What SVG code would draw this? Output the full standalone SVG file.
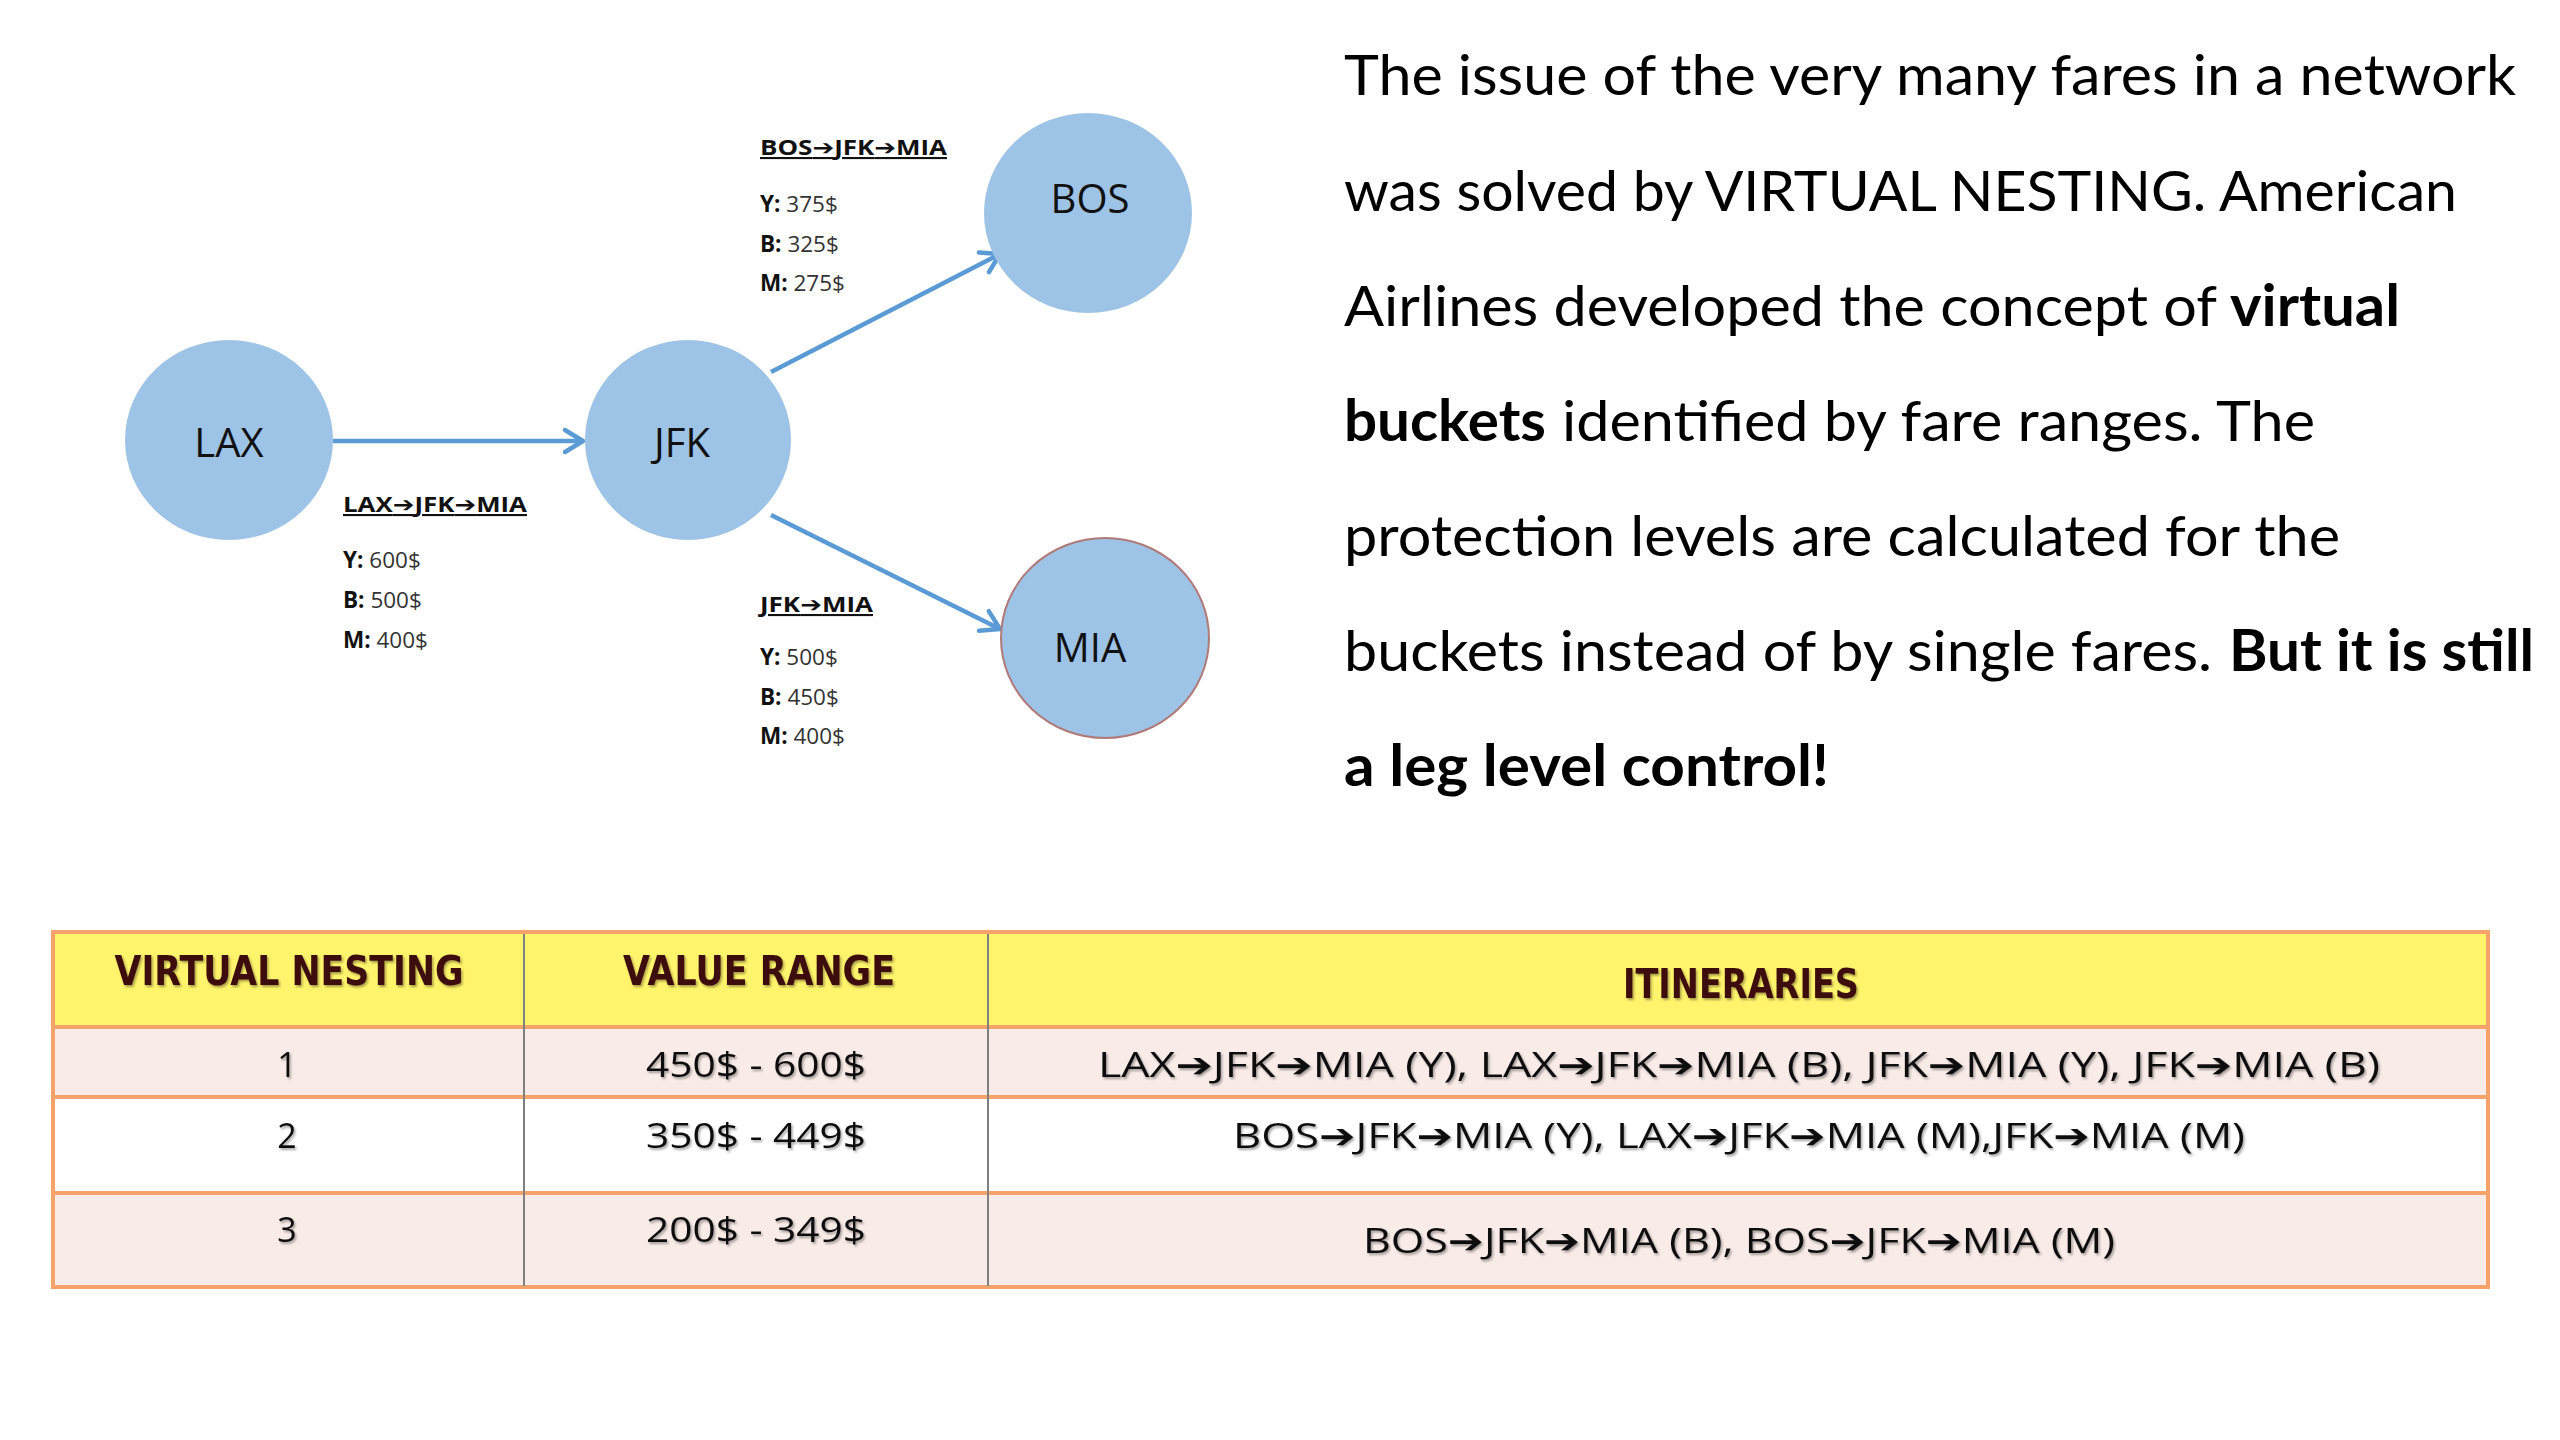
<svg xmlns="http://www.w3.org/2000/svg" width="2560" height="1440" viewBox="0 0 2560 1440">
<style>
.node{fill:#9dc3e6;}
.nlabel{font-family:"Open Sans","Liberation Sans",sans-serif;font-size:40px;fill:#111;text-anchor:middle;}
.edge{stroke:#5b9bd5;stroke-width:4.5;fill:none;}
.route{font-family:"Open Sans","Liberation Sans",sans-serif;font-size:21px;font-weight:bold;fill:#111;text-decoration:underline;}
.fare{font-family:"Open Sans","Liberation Sans",sans-serif;font-size:22.5px;fill:#333;}
.fare tspan.k{font-weight:bold;fill:#111;}
.ar{font-family:"DejaVu Sans",sans-serif;}
.para{font-family:Lato,"Open Sans","Liberation Sans",sans-serif;font-size:57px;fill:#000;}
.b{font-weight:bold;}
.hdr{font-family:"DejaVu Sans","Liberation Sans",sans-serif;font-size:40px;font-weight:bold;fill:#3d0c0c;text-anchor:middle;}
.cell{font-family:"Open Sans","Liberation Sans",sans-serif;font-size:34px;fill:#111;text-anchor:middle;}
.hline{stroke:#f5a36b;stroke-width:4;}
.vline{stroke:#808080;stroke-width:2;}
</style>
<defs>
<marker id="chev" markerUnits="userSpaceOnUse" markerWidth="30" markerHeight="30" viewBox="0 0 30 30" refX="25" refY="15" orient="auto">
<path d="M7,4 L25,15 L7,26" fill="none" stroke="#5b9bd5" stroke-width="4.5" stroke-linecap="round" stroke-linejoin="round"/>
</marker>
<filter id="sh" x="-5%" y="-20%" width="110%" height="150%">
<feDropShadow dx="1.5" dy="2" stdDeviation="1" flood-color="#000" flood-opacity="0.35"/>
</filter>
</defs>
<rect width="2560" height="1440" fill="#fff"/>

<g id="connectors">
<line class="edge" x1="333" y1="441" x2="583" y2="441" marker-end="url(#chev)"/>
<line class="edge" x1="771" y1="372" x2="1000" y2="254" marker-end="url(#chev)"/>
<line class="edge" x1="771" y1="515" x2="1000" y2="629" marker-end="url(#chev)"/>
</g>

<g id="node-LAX">
<ellipse class="node" cx="229" cy="440" rx="104" ry="100"/>
<text class="nlabel" x="229" y="457">LAX</text>
</g>
<g id="node-JFK">
<ellipse class="node" cx="688" cy="440" rx="103" ry="100"/>
<text class="nlabel" x="682" y="457">JFK</text>
</g>
<g id="node-BOS">
<ellipse class="node" cx="1088" cy="213" rx="104" ry="100"/>
<text class="nlabel" x="1090" y="213">BOS</text>
</g>
<g id="node-MIA">
<ellipse class="node" cx="1105" cy="638" rx="104" ry="100" stroke="#b07a78" stroke-width="2"/>
<text class="nlabel" x="1090" y="662">MIA</text>
</g>

<g id="label-BOS-JFK-MIA">
<text class="route" x="760" y="155" textLength="187" lengthAdjust="spacingAndGlyphs">BOS<tspan class="ar">➔</tspan>JFK<tspan class="ar">➔</tspan>MIA</text>
<text class="fare" x="760" y="212"><tspan class="k">Y:</tspan> 375$</text>
<text class="fare" x="760" y="252"><tspan class="k">B:</tspan> 325$</text>
<text class="fare" x="760" y="291"><tspan class="k">M:</tspan> 275$</text>
</g>
<g id="label-LAX-JFK-MIA">
<text class="route" x="343" y="512" textLength="184" lengthAdjust="spacingAndGlyphs">LAX<tspan class="ar">➔</tspan>JFK<tspan class="ar">➔</tspan>MIA</text>
<text class="fare" x="343" y="568"><tspan class="k">Y:</tspan> 600$</text>
<text class="fare" x="343" y="608"><tspan class="k">B:</tspan> 500$</text>
<text class="fare" x="343" y="648"><tspan class="k">M:</tspan> 400$</text>
</g>
<g id="label-JFK-MIA">
<text class="route" x="760" y="612" textLength="113" lengthAdjust="spacingAndGlyphs">JFK<tspan class="ar">➔</tspan>MIA</text>
<text class="fare" x="760" y="665"><tspan class="k">Y:</tspan> 500$</text>
<text class="fare" x="760" y="705"><tspan class="k">B:</tspan> 450$</text>
<text class="fare" x="760" y="744"><tspan class="k">M:</tspan> 400$</text>
</g>

<g id="paragraph">
<text class="para" x="1344" y="95" textLength="1172" lengthAdjust="spacingAndGlyphs">The issue of the very many fares in a network</text>
<text class="para" x="1344" y="211" textLength="1113" lengthAdjust="spacingAndGlyphs">was solved by VIRTUAL NESTING. American</text>
<text class="para" y="326"><tspan x="1344" textLength="873" lengthAdjust="spacingAndGlyphs">Airlines developed the concept of</tspan><tspan class="b" x="2230" textLength="170" lengthAdjust="spacingAndGlyphs">virtual</tspan></text>
<text class="para" y="441"><tspan class="b" x="1344" textLength="202" lengthAdjust="spacingAndGlyphs">buckets</tspan><tspan x="1562" textLength="753" lengthAdjust="spacingAndGlyphs">identified by fare ranges. The</tspan></text>
<text class="para" x="1344" y="556" textLength="996" lengthAdjust="spacingAndGlyphs">protection levels are calculated for the</text>
<text class="para" y="671"><tspan x="1344" textLength="868" lengthAdjust="spacingAndGlyphs">buckets instead of by single fares.</tspan><tspan class="b" x="2229" textLength="305" lengthAdjust="spacingAndGlyphs">But it is still</tspan></text>
<text class="para b" x="1344" y="786" textLength="485" lengthAdjust="spacingAndGlyphs">a leg level control!</text>
</g>

<g id="table">
<rect x="53" y="932" width="2435" height="95" fill="#fff46b"/>
<rect x="53" y="1027" width="2435" height="70" fill="#f9ece8"/>
<rect x="53" y="1097" width="2435" height="96" fill="#ffffff"/>
<rect x="53" y="1193" width="2435" height="94" fill="#f9ece8"/>
<line class="hline" x1="51" y1="932" x2="2490" y2="932"/>
<line class="hline" x1="51" y1="1027" x2="2490" y2="1027"/>
<line class="hline" x1="51" y1="1097" x2="2490" y2="1097"/>
<line class="hline" x1="51" y1="1193" x2="2490" y2="1193"/>
<line class="hline" x1="51" y1="1287" x2="2490" y2="1287"/>
<line class="hline" x1="53" y1="930" x2="53" y2="1289" stroke-width="3"/>
<line class="hline" x1="2488" y1="930" x2="2488" y2="1289" stroke-width="3"/>
<line class="vline" x1="524" y1="934" x2="524" y2="1286"/>
<line class="vline" x1="988" y1="934" x2="988" y2="1286"/>
<g filter="url(#sh)">
<text class="hdr" x="289" y="985" textLength="349" lengthAdjust="spacingAndGlyphs">VIRTUAL NESTING</text>
<text class="hdr" x="759" y="985" textLength="272" lengthAdjust="spacingAndGlyphs">VALUE RANGE</text>
<text class="hdr" x="1741" y="998" textLength="236" lengthAdjust="spacingAndGlyphs">ITINERARIES</text>
</g>
<g filter="url(#sh)">
<text class="cell" x="287" y="1077">1</text>
<text class="cell" x="756" y="1077" textLength="220" lengthAdjust="spacingAndGlyphs">450$ - 600$</text>
<text class="cell" x="1739" y="1077" textLength="1282" lengthAdjust="spacingAndGlyphs">LAX<tspan class="ar">➔</tspan>JFK<tspan class="ar">➔</tspan>MIA (Y), LAX<tspan class="ar">➔</tspan>JFK<tspan class="ar">➔</tspan>MIA (B), JFK<tspan class="ar">➔</tspan>MIA (Y), JFK<tspan class="ar">➔</tspan>MIA (B)</text>
<text class="cell" x="287" y="1148">2</text>
<text class="cell" x="756" y="1148" textLength="220" lengthAdjust="spacingAndGlyphs">350$ - 449$</text>
<text class="cell" x="1739" y="1148" textLength="1012" lengthAdjust="spacingAndGlyphs">BOS<tspan class="ar">➔</tspan>JFK<tspan class="ar">➔</tspan>MIA (Y), LAX<tspan class="ar">➔</tspan>JFK<tspan class="ar">➔</tspan>MIA (M),JFK<tspan class="ar">➔</tspan>MIA (M)</text>
<text class="cell" x="287" y="1242">3</text>
<text class="cell" x="756" y="1242" textLength="220" lengthAdjust="spacingAndGlyphs">200$ - 349$</text>
<text class="cell" x="1739" y="1253" textLength="752" lengthAdjust="spacingAndGlyphs">BOS<tspan class="ar">➔</tspan>JFK<tspan class="ar">➔</tspan>MIA (B), BOS<tspan class="ar">➔</tspan>JFK<tspan class="ar">➔</tspan>MIA (M)</text>
</g>
</g>
</svg>
